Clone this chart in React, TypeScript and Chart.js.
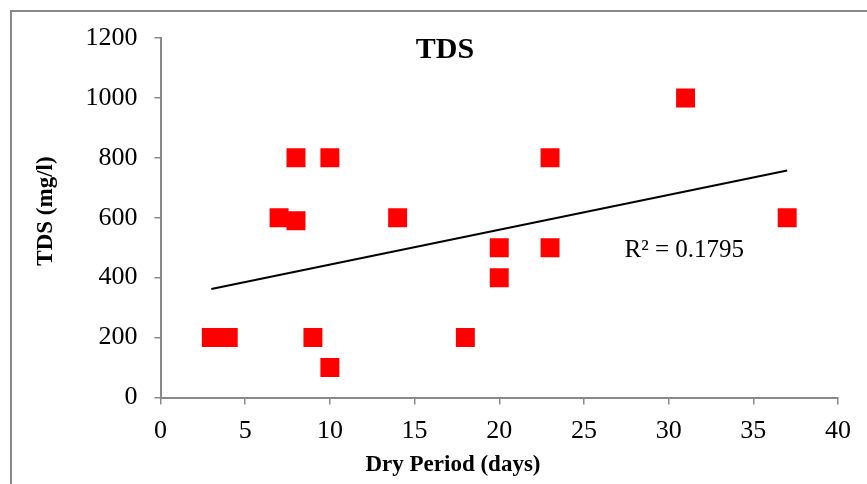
import React, { useEffect, useRef } from 'react';
import { Chart, registerables } from 'chart.js';

Chart.register(...registerables);

const chartTitle = 'TDS';
const xAxisTitle = 'Dry Period (days)';
const yAxisTitle = 'TDS (mg/l)';
const r2Label = 'R² = 0.1795';

const dryPeriodDays = [3, 4, 7, 8, 8, 9, 10, 10, 14, 18, 20, 20, 23, 23, 31, 37];
const tdsMgL = [200, 200, 600, 590, 800, 200, 800, 100, 600, 200, 500, 400, 800, 500, 1000, 600];

const xMin = 0;
const xMax = 40;
const xStep = 5;
const yMin = 0;
const yMax = 1200;
const yStep = 200;

const FONT = '"Liberation Serif", "Times New Roman", serif';
const AXIS_GRAY = '#898989';

function linearFit(xs: number[], ys: number[]) {
  const n = xs.length;
  const mx = xs.reduce((a, b) => a + b, 0) / n;
  const my = ys.reduce((a, b) => a + b, 0) / n;
  let sxy = 0;
  let sxx = 0;
  for (let i = 0; i < n; i++) {
    sxy += (xs[i] - mx) * (ys[i] - my);
    sxx += (xs[i] - mx) * (xs[i] - mx);
  }
  const slope = sxy / sxx;
  const intercept = my - slope * mx;
  return { slope, intercept };
}

const textPlugin = {
  id: 'textPlugin',
  afterDraw(chart: any) {
    const ctx = chart.ctx;
    const xs = chart.scales.x;
    const ys = chart.scales.y;
    ctx.save();
    // outer chart border
    ctx.strokeStyle = AXIS_GRAY;
    ctx.lineWidth = 2;
    ctx.strokeRect(11, 11, 900, 520);

    ctx.fillStyle = '#000';
    // title
    ctx.font = `bold 30px ${FONT}`;
    ctx.textAlign = 'center';
    ctx.textBaseline = 'middle';
    ctx.fillText(chartTitle, 445, 50);

    // x axis title
    ctx.font = `bold 23px ${FONT}`;
    ctx.fillText(xAxisTitle, 453, 465);

    // y axis title
    ctx.save();
    ctx.translate(46, 211);
    ctx.rotate(-Math.PI / 2);
    ctx.fillText(yAxisTitle, 0, 0);
    ctx.restore();

    // R² label
    ctx.font = `25px ${FONT}`;
    ctx.textAlign = 'left';
    ctx.fillText(r2Label, xs.getPixelForValue(27.4), ys.getPixelForValue(490));
    ctx.restore();
  },
};

export default function App() {
  const canvasRef = useRef<HTMLCanvasElement | null>(null);

  useEffect(() => {
    const canvas = canvasRef.current;
    if (!canvas) return;
    const { slope, intercept } = linearFit(dryPeriodDays, tdsMgL);
    const fx0 = Math.min(...dryPeriodDays);
    const fx1 = Math.max(...dryPeriodDays);
    const trend = [
      { x: fx0, y: intercept + slope * fx0 },
      { x: fx1, y: intercept + slope * fx1 },
    ];
    const points = dryPeriodDays.map((d, i) => ({ x: d, y: tdsMgL[i] }));

    const chart = new Chart(canvas, {
      type: 'scatter',
      data: {
        datasets: [
          {
            type: 'line',
            label: 'Linear trend',
            data: trend,
            borderColor: '#000',
            borderWidth: 2,
            pointRadius: 0,
            fill: false,
            order: 1,
          } as any,
          {
            label: 'TDS',
            data: points,
            pointStyle: 'rect',
            pointRadius: 13.4,
            pointHoverRadius: 13.4,
            backgroundColor: '#FF0000',
            borderWidth: 0,
            order: 0,
          },
        ],
      },
      options: {
        animation: false,
        responsive: false,
        devicePixelRatio: 1,
        layout: { padding: { top: 38, right: 29, left: 0, bottom: 0 } },
        plugins: {
          legend: { display: false },
          tooltip: { enabled: false },
          title: { display: false },
        },
        scales: {
          x: {
            type: 'linear',
            min: xMin,
            max: xMax,
            ticks: {
              stepSize: xStep,
              color: '#000',
              font: { family: FONT, size: 26 },
              padding: 11,
              maxRotation: 0,
              callback: (v: any) => String(v),
            },
            grid: {
              drawOnChartArea: false,
              drawTicks: true,
              tickLength: 7,
              color: AXIS_GRAY,
              lineWidth: 1.5,
            },
            border: { color: AXIS_GRAY, width: 2 },
            afterFit: (scale: any) => {
              scale.height = 86.5;
            },
          },
          y: {
            type: 'linear',
            min: yMin,
            max: yMax,
            ticks: {
              stepSize: yStep,
              color: '#000',
              font: { family: FONT, size: 26 },
              padding: 17,
              callback: (v: any) => String(v),
            },
            grid: {
              drawOnChartArea: false,
              drawTicks: true,
              tickLength: 6,
              color: AXIS_GRAY,
              lineWidth: 1.5,
            },
            border: { color: AXIS_GRAY, width: 2 },
            afterFit: (scale: any) => {
              scale.width = 160.5;
            },
          },
        },
      },
      plugins: [textPlugin],
    });
    return () => chart.destroy();
  }, []);

  return (
    <div style={{ position: 'absolute', left: 0, top: 0, width: 867, height: 484, background: '#fff' }}>
      <canvas ref={canvasRef} width={867} height={484} style={{ display: 'block', width: 867, height: 484 }} />
    </div>
  );
}
